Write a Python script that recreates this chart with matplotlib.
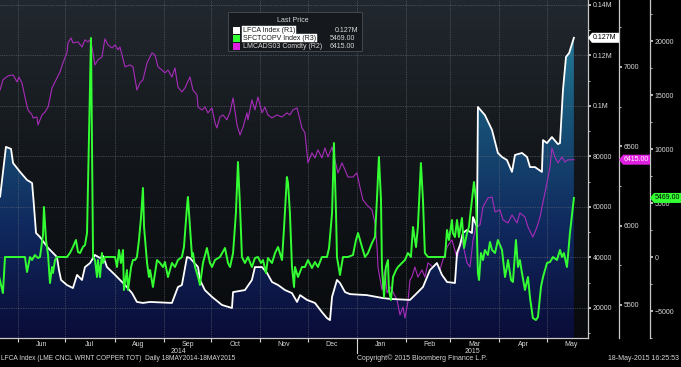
import numpy as np
import matplotlib
matplotlib.use("Agg")
import matplotlib.pyplot as plt
import matplotlib.dates as mdates
from matplotlib.colors import LinearSegmentedColormap
from matplotlib.patches import Polygon, Rectangle
from matplotlib.ticker import FuncFormatter, MultipleLocator
from datetime import datetime

plt.rcParams['font.family'] = ['Liberation Sans', 'DejaVu Sans']

# all series: days counted from 18 May 2014
lfca_day = [0, 2.7, 6.4, 9.6, 10.9, 15.3, 19.7, 22.9, 23.8, 25.4, 27.9, 33.0, 38.6, 39.9, 41.2,
            44.9, 48.7, 51.3, 54.4, 56.3, 59.5, 62.6, 65.8, 67.7, 70.2, 75.3, 81.6, 86.0, 89.1,
            92.9, 97.4, 111.2, 115.0, 117.5, 120.7, 122.6, 127.7, 128.9, 132.0, 136.5, 142.8,
            149.1, 149.8, 157.3, 161.7, 163.6, 168.1, 171.2, 174.4, 178.2, 182.6, 187.0, 190.2,
            192.1, 196.5, 201.5, 205.9, 209.1, 211.0, 212.3, 215.4, 217.3, 220.5, 223.6, 234.3,
            243.8, 248.9, 261.5, 264.6, 269.7, 274.1, 278.5, 281.7, 284.9, 289.9, 291.2, 293.1,
            294.9, 297.5, 300.6, 301.3, 303.8, 304.4, 308.8, 313.3, 317.0, 319.6, 322.7, 325.9,
            327.8, 332.2, 335.4, 337.3, 340.4, 344.8, 345.5, 348.0, 351.1, 354.9, 356.2, 358.1,
            360.0, 362.0, 365.0]
lfca_val = [66000, 64000, 83800, 83000, 77400, 73900, 70700, 69500, 62800, 49700, 48100, 43800,
            40200, 35000, 31100, 29100, 27900, 33100, 31100, 36200, 37800, 41000, 39800, 40600,
            36200, 33100, 29100, 25900, 22400, 22000, 22400, 22000, 28300, 29100, 40200, 39800,
            36200, 31100, 27100, 24400, 21200, 20000, 26300, 27100, 31100, 36200, 36200, 33900,
            30300, 29100, 27100, 25900, 22400, 25100, 23200, 22000, 18400, 16000, 15200, 24400,
            31100, 29900, 26300, 25500, 25100, 24000, 23600, 23200, 25100, 28300, 35000, 37800,
            33100, 30300, 29900, 41800, 45000, 49700, 50900, 49700, 56000, 52100, 99600, 96400,
            90500, 81400, 79800, 78600, 73900, 80600, 81400, 79800, 75800, 75800, 73900, 86500,
            85300, 87700, 84900, 85300, 106300, 119400, 121000, 127000]

lme_day = [0, 2.7, 4.5, 7.7, 10.9, 13.4, 14.6, 16.5, 18.4, 20.3, 22.9, 23.5, 26.0, 26.6, 29.2,
           31.1, 33.0, 35.5, 38.6, 40.5, 42.4, 44.9, 45.6, 47.5, 48.7, 51.9, 54.4, 56.3, 58.2,
           59.5, 60.7, 62.6, 64.5, 67.0, 68.9, 70.8, 73.4, 75.3, 77.2, 78.4, 81.6, 84.7, 86.6,
           89.1, 91.0, 92.9, 95.5, 98.6, 100.5, 102.4, 104.9, 106.8, 108.7, 111.2, 113.1, 115.0,
           117.5, 119.4, 122.6, 124.5, 127.0, 127.7, 130.2, 132.1, 133.9, 136.5, 138.4, 139.6,
           141.5, 143.4, 145.9, 147.9, 149.8, 152.3, 154.2, 156.1, 158.6, 159.2, 161.7, 163.6,
           165.5, 168.1, 169.9, 171.8, 174.4, 177.5, 180.7, 183.8, 185.7, 187.6, 190.2, 193.3,
           195.2, 196.5, 197.1, 199.6, 201.5, 203.4, 205.9, 207.8, 209.7, 212.3, 214.1, 216.0,
           218.6, 220.5, 222.3, 225.5, 228.0, 229.9, 231.8, 234.3, 237.5, 239.4, 240.7, 241.3,
           243.8, 245.7, 247.0, 248.9, 250.8, 253.3, 255.2, 257.1, 258.3, 260.2, 261.5, 262.7,
           264.6, 266.5, 269.1, 270.9, 272.9, 276.0, 278.5, 280.4, 282.3, 284.9, 288.0, 291.2,
           294.3, 297.5, 299.4, 301.3, 303.2, 305.7, 307.6, 310.7, 313.3, 315.2, 318.3, 320.2,
           323.4, 325.9, 329.1, 330.9, 334.1, 336.0, 339.1, 341.7, 343.6, 345.5, 348.0, 349.9,
           351.1, 353.0, 354.9, 357.5, 359.3, 361.2, 365.0]
lme_val = [6867, 6854, 6918, 6943, 6949, 6905, 6936, 6899, 6810, 6729, 6697, 6678, 6684, 6634,
           6697, 6716, 6747, 6867, 6930, 6968, 7025, 7088, 7151, 7182, 7151, 7157, 7125, 7170,
           7157, 7170, 7125, 7012, 7044, 7062, 7176, 7138, 7119, 7138, 7107, 7125, 7000, 7012,
           7000, 6854, 6899, 6918, 7025, 7088, 7075, 7000, 6980, 6962, 6980, 6936, 6993, 6873,
           6842, 6867, 6936, 6854, 6823, 6747, 6728, 6747, 6710, 6741, 6647, 6615, 6684, 6697,
           6666, 6716, 6804, 6634, 6571, 6621, 6710, 6666, 6792, 6729, 6810, 6710, 6747, 6697,
           6678, 6697, 6684, 6710, 6697, 6729, 6741, 6615, 6584, 6458, 6395, 6458, 6426, 6477,
           6426, 6489, 6432, 6495, 6414, 6332, 6395, 6351, 6306, 6306, 6332, 6243, 6162, 6130,
           6099, 6017, 5865, 5739, 5595, 5721, 5576, 5613, 5582, 5532, 5437, 5487, 5418, 5519,
           5658, 5676, 5739, 5676, 5721, 5676, 5765, 5739, 5765, 5721, 5784, 5865, 5910, 5796,
           5910, 5765, 5739, 5910, 5991, 6004, 6117, 6174, 6180, 6086, 6099, 6036, 6017, 6067,
           6017, 6080, 6054, 5991, 5928, 5991, 6054, 6149, 6269, 6369, 6489, 6432, 6395, 6432,
           6401, 6414, 6415]

shfe_day = [0, 4.5, 5.8, 18.4, 19.7, 21.6, 22.9, 24.7, 26.6, 27.9, 29.8, 30.4, 31.7, 33.0, 34.2,
            35.5, 36.1, 37.4, 38.6, 44.9, 46.8, 48.7, 50.6, 51.9, 53.2, 55.0, 56.3, 57.6, 60.1,
            61.4, 62.6, 63.9, 64.5, 65.8, 67.0, 67.7, 68.9, 75.3, 76.5, 77.8, 79.0, 80.3, 80.9,
            82.8, 83.5, 85.4, 86.6, 87.9, 89.1, 90.4, 91.7, 92.9, 93.6, 95.5, 96.7, 97.4, 99.2,
            101.8, 103.7, 105.6, 106.8, 108.7, 111.2, 113.1, 115.0, 117.5, 118.8, 120.7, 121.3,
            122.6, 123.9, 124.5, 125.8, 127.7, 128.9, 130.8, 133.3, 135.2, 136.5, 138.4, 141.5,
            144.7, 146.6, 147.9, 149.8, 151.6, 152.9, 154.2, 155.4, 157.3, 159.2, 161.7, 163.6,
            165.5, 167.4, 168.7, 170.6, 171.8, 174.4, 176.3, 178.2, 180.7, 181.9, 183.8, 184.5,
            185.7, 187.0, 188.3, 188.9, 190.8, 193.3, 195.2, 197.1, 199.6, 201.5, 203.4, 205.9,
            209.1, 210.4, 212.3, 213.5, 214.8, 215.4, 217.3, 219.2, 222.3, 225.5, 227.4, 228.7,
            231.2, 233.1, 235.0, 237.5, 239.4, 240.7, 241.9, 243.2, 243.8, 245.1, 246.3, 247.6,
            248.2, 249.5, 250.8, 252.7, 253.9, 256.4, 258.3, 260.2, 262.1, 263.4, 265.3, 266.5,
            268.4, 269.7, 270.9, 272.9, 283.6, 284.9, 286.1, 288.0, 288.6, 289.9, 291.2, 292.4,
            294.3, 295.6, 297.5, 298.7, 300.6, 301.9, 303.2, 304.4, 305.1, 306.3, 307.6, 308.8,
            310.7, 312.0, 313.3, 315.2, 317.0, 319.6, 321.5, 322.7, 323.4, 325.3, 326.5, 328.4,
            329.7, 330.9, 332.2, 334.1, 336.0, 337.3, 339.1, 341.0, 342.3, 344.2, 345.5, 348.0,
            349.9, 351.8, 354.3, 356.2, 357.5, 358.7, 360.6, 361.2, 362.5, 365.0]
shfe_val = [-500, -3334, 0, 0, -1389, 0, -278, 185, -93, 0, 2037, 4630, 1574, 185, -2408, -926,
            -1482, -278, 0, 0, 370, 926, 1574, 463, 370, 926, 1111, 2222, 20279, 0, -278, -1852,
            -278, -1852, 370, -556, 0, 0, -926, 648, -556, 648, -3056, -1204, -3056, -926, -278,
            -278, 0, 1574, 3704, 6389, 2778, -556, -1852, -1204, -2778, -278, -556, -926, -463,
            -1852, -556, -926, -278, 0, 926, 4630, 5556, 2778, 0, 370, -926, -1852, -2593, -556,
            833, -556, -926, -278, 0, 833, -556, -926, 370, 4074, 8797, 4630, 0, -556, 0, -926,
            -93, 0, -556, -278, -1482, -93, -556, 370, 926, -278, 2500, 7408, 6852, 4074, -926,
            -2778, -926, -1852, -926, -926, -278, -1019, -463, -926, 0, 0, 833, 4074, 10556,
            4074, 0, -1667, 0, 0, 185, 1574, 2222, 926, 0, 370, 1296, 1852, 5556, 9260, 5278,
            -926, -3704, -926, -278, -3056, -3982, -1852, -1204, -926, -556, -278, 370, 0, 2778,
            926, 2778, 8704, 5278, 370, 0, 0, 2500, 1574, 3426, 2222, 1852, 3426, 1852, 3611, 833,
            2222, 2778, 5278, 6945, 5278, -1482, -2130, 370, -278, 648, 185, 1389, 648, 370, 1574,
            648, -1852, -926, -278, -2130, -2315, 1574, -926, -278, -1482, -3056, -1852, -3797,
            -5649, -5834, -5556, -2778, -1852, -556, -463, 0, -278, 648, 0, 370, -926, 0, 2222,
            5469]

names = ["LFCA Index (R1)", "SFCTCOPV Index (R3)", "LMCADS03 Comdty (R2)"]
last_text = ["0.127M", "5469.00", "6415.00"]

W, H = 681, 367
def fx(px):
    return px / W
def fy(py):
    return 1 - py / H

start = mdates.date2num(datetime(2014, 5, 18))
lx = start + np.array(lfca_day)
mx = start + np.array(lme_day)
sx = start + np.array(shfe_day)
xlo, xhi = start + 2.65, start + 373.9
r1_lim = (8120, 141968)
r2_lim = (5292, 7421)
r3_lim = (-7500, 23800)

fig = plt.figure(figsize=(6.81, 3.67), dpi=100, facecolor='black')
rect = [0, fy(338), fx(588), 338 / H]

# background gradient behind the plot
axbg = fig.add_axes(rect, zorder=0)
bgcmap = LinearSegmentedColormap.from_list('bg', ['#080a0d', '#12161a', '#22282f'])
axbg.imshow(np.linspace(1, 0, 256)[:, None], cmap=bgcmap, aspect='auto', extent=[0, 1, 0, 1])
axbg.axis('off')

ax1 = fig.add_axes(rect, zorder=1)
ax1.patch.set_visible(False)
ax2 = ax1.twinx()
ax3 = ax1.twinx()
ax1.yaxis.tick_right()

# area under LFCA with vertical gradient
fillcmap = LinearSegmentedColormap.from_list('fill', ['#0a0c38', '#10295e', '#185478', '#2a8aa8'])
fb = ax1.fill_between(lx, lfca_val, r1_lim[0], facecolor='none', edgecolor='none')
img = ax1.imshow(np.linspace(1, 0, 256)[:, None], cmap=fillcmap, aspect='auto',
                 extent=[xlo, start + 366, r1_lim[0], 141968], zorder=0.5)
img.set_clip_path(fb.get_paths()[0], transform=ax1.transData)

ax1.plot(mx, lme_val, color='#a82cba', lw=0.8, zorder=2, transform=ax2.transData)
ax1.plot(lx, lfca_val, color='white', lw=1.3, zorder=3)
ax1.plot(sx, shfe_val, color='#33ff33', lw=1.4, zorder=4, transform=ax3.transData)

for a in (ax1, ax2, ax3):
    a.set_xlim(xlo, xhi)
ax1.set_ylim(*r1_lim)
ax2.set_ylim(*r2_lim)
ax3.set_ylim(*r3_lim)

tc = '#d8d8d8'
fs = 5
# x axis: separators at month starts, names mid-month
ax1.xaxis.set_major_locator(mdates.MonthLocator())
ax1.xaxis.set_major_formatter(plt.NullFormatter())
ax1.xaxis.set_minor_locator(mdates.MonthLocator(bymonthday=16))
ax1.xaxis.set_minor_formatter(mdates.DateFormatter('%b'))
ax1.tick_params(axis='x', which='major', length=3, color=tc, width=0.8)
ax1.tick_params(axis='x', which='minor', length=0, pad=2, labelsize=fs, labelcolor=tc)

ax1.yaxis.set_major_locator(MultipleLocator(20000))
ax1.yaxis.set_minor_locator(MultipleLocator(10000))
ax1.yaxis.set_major_formatter(FuncFormatter(lambda v, p: f"{v / 1e6:g}M" if v >= 100000 else f"{v:.0f}"))
ax2.yaxis.set_major_locator(MultipleLocator(500))
ax2.yaxis.set_minor_locator(MultipleLocator(250))
ax3.yaxis.set_major_locator(MultipleLocator(5000))
ax3.yaxis.set_minor_locator(MultipleLocator(2500))
for a in (ax1, ax2, ax3):
    a.tick_params(axis='y', which='major', length=2.5, width=1.2, color=tc, pad=1,
                  labelsize=fs, labelcolor=tc)
    a.tick_params(axis='y', which='minor', length=1.5, width=0.6, color=tc)
    for s in ('top', 'left'):
        a.spines[s].set_visible(False)
    a.spines['right'].set_color('#c8c8c8')
    a.spines['right'].set_linewidth(0.9)
ax1.spines['bottom'].set_color('#c8c8c8')
ax1.spines['bottom'].set_linewidth(0.9)
ax2.spines['bottom'].set_visible(False)
ax3.spines['bottom'].set_visible(False)
ax2.spines['right'].set_position(('axes', 619 / 588))
ax3.spines['right'].set_position(('axes', 650 / 588))

ax1.grid(True, which='major', color='#6a7078', lw=0.5, ls=(0, (1, 1.5)))

# year labels centred on each year's share of the axis
jan1 = mdates.date2num(datetime(2015, 1, 1))
for yr, mid in (("2014", (xlo + jan1) / 2), ("2015", (jan1 + xhi) / 2)):
    ax1.annotate(yr, xy=(mid, 0), xycoords=('data', 'axes fraction'), xytext=(0, -10),
                 textcoords='offset points', ha='center', va='center', fontsize=fs, color=tc)
ax1.plot([jan1, jan1], [0, -0.045], transform=ax1.get_xaxis_transform(), clip_on=False,
         color=tc, lw=0.8)

# last-price tags on each axis
def tag(ax, val, x0, w, text, fc, col):
    ypix = ax.transData.transform((xlo, val))[1]
    y = H - ypix
    h = 10
    pts = [(x0, y), (x0 + 4, y - h / 2), (x0 + w, y - h / 2), (x0 + w, y + h / 2), (x0 + 4, y + h / 2)]
    fig.patches.append(Polygon([(fx(px), fy(py)) for px, py in pts], closed=True, facecolor=fc,
                               edgecolor='none', transform=fig.transFigure, zorder=5))
    fig.text(fx(x0 + 3 + (w - 3) / 2), fy(y), text, ha='center', va='center', fontsize=fs,
             color=col, zorder=6)

tag(ax1, lfca_val[-1], 588, 31, last_text[0], 'white', 'black')
tag(ax2, lme_val[-1], 619, 31, last_text[2], '#e020e0', 'white')
tag(ax3, shfe_val[-1], 650, 31, last_text[1], '#33ff33', 'black')

# legend box
fig.patches.append(Rectangle((fx(228), fy(51)), 134 / W, 39 / H, transform=fig.transFigure,
                             facecolor='#15191d', edgecolor='#4a4f55', lw=0.6, zorder=5))
fig.text(fx(293), fy(21), "Last Price", ha='center', va='center', fontsize=fs, color=tc, zorder=6)
colors = ['white', '#33ff33', '#e020e0']
val_right = [358, 355, 355]
for i, (nm, val, c) in enumerate(zip(names, last_text, colors)):
    yy = 30 + 8 * i
    fig.patches.append(Rectangle((fx(233), fy(yy + 3.5)), 7 / W, 7 / H, transform=fig.transFigure,
                                 facecolor=c, edgecolor='none', zorder=6))
    if i < 2:
        fig.text(fx(243), fy(yy), nm, ha='left', va='center', fontsize=fs, color='#1a1a1a', zorder=6,
                 bbox=dict(facecolor='white', edgecolor='white', lw=0.3, pad=0.5))
    else:
        fig.text(fx(243), fy(yy), nm, ha='left', va='center', fontsize=fs, color=tc, zorder=6)
    fig.text(fx(val_right[i]), fy(yy), val, ha='right', va='center', fontsize=fs, color=tc, zorder=6)

# footer
fig.text(fx(1), fy(358), "LFCA Index (LME CNCL WRNT COPPER TOT)  Daily 18MAY2014-18MAY2015",
         ha='left', va='center', fontsize=4.75, color=tc)
fig.text(fx(357), fy(358), "Copyright\u00a9 2015 Bloomberg Finance L.P.", ha='left', va='center',
         fontsize=fs, color=tc)
fig.text(fx(679), fy(358), "18-May-2015 16:25:53", ha='right', va='center', fontsize=fs, color=tc)

fig.savefig('out.png', dpi=100, facecolor='black')
